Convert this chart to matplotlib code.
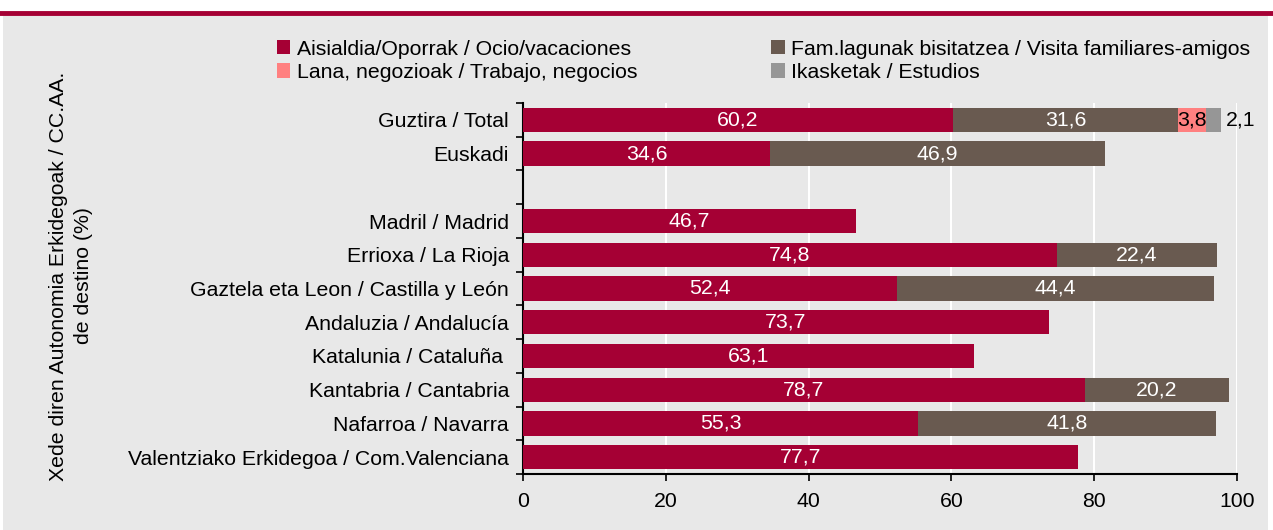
import numpy as np
import matplotlib.pyplot as plt
from matplotlib.patches import Rectangle

plt.rcParams['font.family'] = ['Liberation Sans', 'DejaVu Sans']

# Data
categories = ['Guztira / Total', 'Euskadi', '', 'Madril / Madrid', 'Errioxa / La Rioja',
              'Gaztela eta Leon / Castilla y León', 'Andaluzia / Andalucía',
              'Katalunia / Cataluña ', 'Kantabria / Cantabria', 'Nafarroa / Navarra',
              'Valentziako Erkidegoa / Com.Valenciana']
ocio = [60.2, 34.6, 0, 46.7, 74.8, 52.4, 73.7, 63.1, 78.7, 55.3, 77.7]
familia = [31.6, 46.9, 0, 0, 22.4, 44.4, 0, 0, 20.2, 41.8, 0]
trabajo = [3.8, 0, 0, 0, 0, 0, 0, 0, 0, 0, 0]
estudios = [2.1, 0, 0, 0, 0, 0, 0, 0, 0, 0, 0]
series_names = ['Aisialdia/Oporrak / Ocio/vacaciones', 'Fam.lagunak bisitatzea / Visita familiares-amigos',
                'Lana, negozioak / Trabajo, negocios', 'Ikasketak / Estudios']

colors = ['#A50034', '#695A50', '#FF8080', '#969696']
bg = '#E8E8E8'
fs = 15.3

fig = plt.figure(figsize=(12.73, 5.30), dpi=100)
fig.patches.append(Rectangle((3/1273, 0), 1265/1273, 1 - 15/530, transform=fig.transFigure,
                             facecolor=bg, edgecolor='none', zorder=-10))
fig.add_artist(plt.Line2D([0, 1], [1 - 13/530, 1 - 13/530], transform=fig.transFigure,
                          color='#A50034', linewidth=3.5))

ax = fig.add_axes([523/1273, 1 - 474/530, (1237 - 523)/1273, (474 - 103)/530])
ax.set_facecolor(bg)

y = np.arange(len(categories))
data = [ocio, familia, trabajo, estudios]
left = np.zeros(len(categories))
handles = []
for i, (vals, c, name) in enumerate(zip(data, colors, series_names)):
    vals = np.array(vals)
    bars = ax.barh(y, vals, left=left, height=0.72, color=c, label=name, zorder=3)
    handles.append(bars)
    for j, v in enumerate(vals):
        if v <= 0:
            continue
        if i == 3:
            ax.text(left[j] + v + 0.8, y[j], f'{v:.1f}'.replace('.', ','),
                    va='center', ha='left', fontsize=fs, color='black', zorder=4)
        else:
            tc = 'black' if i == 2 else 'white'
            ax.text(left[j] + v / 2, y[j], f'{v:.1f}'.replace('.', ','),
                    va='center', ha='center', fontsize=fs, color=tc, zorder=4)
    left = left + vals

ax.set_ylim(len(categories) - 0.5, -0.5)
ax.set_xlim(0, 100)
ax.set_xticks([0, 20, 40, 60, 80, 100])
ax.set_yticks(y)
ax.set_yticklabels(categories, fontsize=fs)
ax.set_yticks(np.arange(len(categories) + 1) - 0.5, minor=True)
ax.tick_params(axis='y', which='major', length=0, pad=10)
ax.tick_params(axis='y', which='minor', length=5, width=1.2, direction='out')
ax.tick_params(axis='x', labelsize=fs, length=5, width=1.2, direction='out', pad=8)
ax.grid(axis='x', color='white', linewidth=1.5, zorder=0)
for s in ['top', 'right']:
    ax.spines[s].set_visible(False)
for s in ['left', 'bottom']:
    ax.spines[s].set_linewidth(1.5)

fig.text(71/1273, 1 - 276/530, 'Xede diren Autonomia Erkidegoak / CC.AA.\nde destino (%)',
         rotation=90, ha='center', va='center', fontsize=fs, multialignment='center',
         linespacing=1.45)

order = [0, 2, 1, 3]
fig.legend([handles[k] for k in order], [series_names[k] for k in order], ncol=2,
           loc='upper left', bbox_to_anchor=(266/1273, 1 - 29/530),
           frameon=False, fontsize=fs, handlelength=0.65, handleheight=0.65,
           handletextpad=0.3, columnspacing=6.3, labelspacing=0.2, borderpad=0)

plt.savefig('out.png', dpi=100)
